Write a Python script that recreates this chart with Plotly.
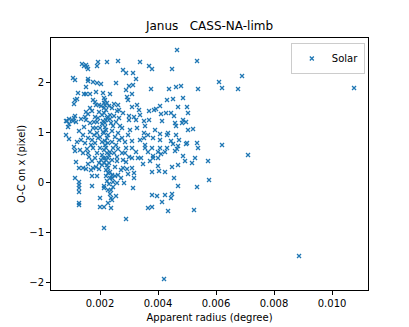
import plotly.graph_objects as go

# apparent radius in millidegree, O-C in pixel
radius_mdeg = [
    1.379, 1.448, 1.517, 1.552, 1.586, 1.931, 1.897, 2.241, 2.621, 3.379,
    2.793, 2.897, 3.138, 3.690, 3.793, 1.069, 1.138, 1.586, 1.586, 1.759,
    1.897, 2.034, 2.552, 3.241, 3.000, 3.138, 2.897, 3.759, 1.517, 1.862,
    2.103, 2.345, 3.103, 1.241, 1.448, 1.517, 1.655, 2.931, 2.966, 1.138,
    1.207, 1.103, 1.759, 1.828, 2.138, 2.138, 2.172, 1.966, 2.483, 2.621,
    3.103, 3.276, 3.862, 3.690, 3.345, 2.586, 2.655, 2.310, 2.138, 1.724,
    1.586, 1.966, 2.345, 2.276, 2.069, 1.931, 1.828, 1.483, 1.517, 1.345,
    1.138, 1.103, 0.931, 0.862, 1.034, 1.172, 3.000, 3.172, 3.379, 3.000,
    3.241, 3.517, 3.690, 2.552, 2.207, 2.103, 1.897, 1.793, 2.345,
    0.897, 1.276, 0.828, 0.931, 1.207, 1.345, 1.103, 1.138, 1.414, 1.552,
    1.586, 1.621, 1.172, 1.276, 1.414, 1.586, 1.724, 1.517, 1.690, 1.759,
    1.862, 1.966, 2.069, 1.138, 1.276, 1.276, 1.276, 1.276, 1.276, 1.276,
    1.724, 1.897, 1.724, 2.000, 2.000, 2.138, 2.138, 2.138, 2.276, 2.379,
    2.379, 2.448, 2.448, 2.414, 2.414, 2.345, 2.276, 2.241, 2.172, 2.103,
    2.276, 2.414, 2.517, 2.724, 2.793, 2.931, 3.103, 2.966, 2.724, 3.172,
    3.172, 3.138, 3.793, 3.793, 3.793, 2.862, 3.103, 3.241, 3.103, 3.310,
    3.483, 3.414, 3.552, 3.655, 3.828, 3.828, 3.724, 2.621, 2.759, 2.586,
    2.793, 2.897, 2.759, 2.862, 3.103, 3.379, 3.517, 3.517, 3.655, 3.828,
    3.552, 3.793, 3.276, 3.552, 3.034, 2.759, 2.621, 2.517, 2.414, 2.448,
    2.345, 2.172, 2.069, 1.931, 1.828, 1.759, 1.897, 2.000, 2.069, 2.241,
    1.655, 1.759, 1.897, 2.000, 2.103, 2.172, 2.276, 1.586, 1.724,
    4.655, 5.345, 4.483, 6.897, 6.103, 6.207, 6.759, 5.379, 4.379, 4.621,
    4.793, 4.310, 4.517, 4.862, 4.069, 3.931, 4.690, 5.000, 4.276, 4.103,
    4.448, 4.552, 5.034, 4.138, 4.862, 4.966, 4.586, 4.828, 10.759,
    3.897, 4.069, 4.621, 5.034, 5.207, 4.310, 4.345, 4.621, 4.069, 4.448,
    4.517, 4.724, 4.690, 4.655, 4.586, 5.000, 4.966, 5.345, 5.379, 6.207,
    7.103, 4.069, 4.310, 4.000, 4.241, 4.103, 4.000, 4.862, 5.276, 5.724,
    4.931, 5.172, 4.690, 4.000, 4.483, 4.034, 4.241, 4.552, 5.759, 4.690,
    5.345, 3.966, 4.241, 4.483, 4.448, 4.138, 5.241, 4.345, 4.207, 8.862,
    2.897, 2.138, 3.655, 0.828, 0.931, 1.069,
    2.172, 2.241, 2.207, 2.138, 2.241, 2.172, 2.207, 2.138, 2.241, 2.172,
    2.276, 2.207, 2.138, 2.310, 2.207, 2.138, 2.310, 2.207, 2.276, 2.207,
    2.345, 2.241, 2.310, 2.379, 2.345, 2.034, 2.069, 2.000, 2.034, 1.966,
    2.414, 2.448, 2.379, 2.483, 2.414, 2.552, 2.483, 2.586, 2.655, 2.690,
    2.655, 2.793, 1.862, 1.793, 1.690, 1.828, 1.862, 1.655, 1.517, 1.448,
    1.414, 1.483, 1.655, 1.310, 2.966, 2.897, 3.000, 2.621, 2.517, 2.828,
    2.586, 2.414, 2.276, 2.552,
]
oc_x = [
    2.36, 2.32, 2.34, 2.30, 2.26, 2.40, 2.32, 2.40, 2.42, 2.40,
    2.24, 2.18, 2.18, 2.32, 2.26, 2.08, 2.04, 2.06, 2.02, 2.00,
    1.98, 1.96, 1.98, 2.06, 1.92, 1.94, 1.84, 1.86, 1.90, 1.80,
    1.78, 1.76, 1.76, 1.78, 1.76, 1.76, 1.76, 1.70, 1.64, 1.64,
    1.66, 1.56, 1.64, 1.60, 1.68, 1.58, 1.54, 1.54, 1.56, 1.54,
    1.50, 1.54, 1.44, 1.42, 1.44, 1.42, 1.44, 1.52, 1.48, 1.42,
    1.36, 1.40, 1.34, 1.30, 1.34, 1.28, 1.30, 1.30, 1.24, 1.26,
    1.32, 1.28, 1.26, 1.22, 1.24, 1.20, 1.32, 1.30, 1.34, 1.24,
    1.24, 1.22, 1.24, 1.20, 1.24, 1.22, 1.20, 1.20, 1.26,
    1.10, 1.02, 0.94, 0.86, 0.80, 0.84, 0.70, 0.62, 0.58, 0.66,
    0.58, 0.50, 0.40, 0.28, 0.28, 0.36, 0.42, 0.26, 0.24, 0.28,
    0.30, 0.26, 0.34, 0.08, 0.00, -0.06, -0.12, -0.20, -0.42, -0.46,
    -0.08, 0.12, 0.12, -0.32, -0.50, -0.50, -0.08, -0.12, -0.16, -0.32,
    -0.52, -0.10, 0.00, 0.08, 0.14, 0.20, 0.28, 0.34, 0.48, 0.48,
    0.48, 0.44, 0.30, 0.24, 0.28, 0.26, 0.28, 0.16, 0.08, 0.08,
    0.18, -0.12, 0.20, -0.26, -0.50, 0.58, 0.68, 0.60, 0.48, 0.48,
    0.36, 0.48, 0.68, 0.60, 0.52, 0.48, 0.42, 0.66, 0.58, 0.50,
    0.44, 0.40, 0.88, 0.80, 0.82, 0.84, 0.88, 0.98, 0.94, 0.88,
    0.74, 0.68, 1.08, 1.12, 1.04, 1.08, 0.98, 0.90, 0.80, 0.68,
    0.60, 0.74, 0.80, 0.88, 0.78, 0.68, 0.58, 0.68, 0.54, 0.58,
    1.00, 1.08, 0.98, 1.08, 1.00, 1.10, 0.94, 0.88, 0.84,
    2.64, 2.42, 2.26, 2.12, 2.00, 1.88, 1.86, 1.86, 1.86, 1.90,
    1.92, 1.64, 1.66, 1.68, 1.52, 1.46, 1.50, 1.50, 1.38, 1.36,
    1.38, 1.32, 1.38, 1.22, 1.24, 1.20, 1.18, 1.18, 1.88,
    1.04, 0.96, 1.12, 1.04, 1.06, 0.94, 0.98, 0.94, 0.84, 0.82,
    0.76, 0.84, 0.72, 0.66, 0.62, 0.78, 0.76, 0.78, 0.68, 0.74,
    0.54, 0.68, 0.68, 0.60, 0.60, 0.56, 0.48, 0.52, 0.48, 0.42,
    0.42, 0.38, 0.34, 0.32, 0.30, 0.22, 0.20, 0.08, 0.04, -0.08,
    -0.10, -0.28, -0.26, -0.24, -0.32, -0.40, -0.56, -0.58, -1.94, -1.48,
    -0.74, -0.92, -0.52, 1.22, 1.16, 1.22,
    1.64, 1.58, 1.44, 1.38, 1.28, 1.18, 1.04, 0.98, 0.88, 0.82,
    0.78, 0.68, 0.64, 0.54, 0.44, 0.38, 0.38, 0.24, 0.18, 0.12,
    0.08, 0.02, -0.04, -0.16, -0.24, 1.52, 1.16, 0.90, 0.44, 0.38,
    1.02, 1.12, 1.18, 1.32, 1.48, 0.74, 0.58, 0.42, 0.84, 1.12,
    1.28, 1.38, 1.08, 0.94, 0.74, 0.48, 1.54, 1.48, 1.40, 1.10,
    0.94, 0.78, 1.18, 0.64, 0.94, 0.68, 0.50, 0.14, 0.12, -0.02,
    -0.02, -0.36, -0.42, -0.28,
]
radius = [r * 1e-3 for r in radius_mdeg]

fig = go.Figure()
fig.add_trace(go.Scatter(
    x=radius, y=oc_x, mode="markers", name="Solar",
    marker=dict(symbol="x-thin-open", size=4, color="#1f77b4",
                line=dict(width=1.3, color="#1f77b4")),
))

axis_style = dict(
    showline=True, linecolor="black", linewidth=1, mirror=True,
    ticks="outside", ticklen=4, tickcolor="black", tickwidth=1,
    showgrid=False, zeroline=False, automargin=False,
    tickfont=dict(family="DejaVu Sans", size=10, color="black"),
    title_font=dict(family="DejaVu Sans", size=10, color="black"),
)

fig.update_xaxes(range=[0.00031, 0.01124], tick0=0, dtick=0.002, tickformat=".3f",
                 title_text="Apparent radius (degree)", title_standoff=5, **axis_style)
fig.update_yaxes(range=[-2.16, 2.88], tick0=0, dtick=1,
                 title_text="O-C on x (pixel)", title_standoff=1, **axis_style)

# the page body adds an 8px offset, so the figure is 8px smaller and left/top margins shrink
fig.update_layout(
    width=401, height=319,
    autosize=False,
    margin=dict(l=43, r=41, t=30, b=37),
    paper_bgcolor="white", plot_bgcolor="white",
    title=dict(text="Janus   CASS-NA-limb", x=0.5025, xanchor="center", y=0.931, yanchor="bottom",
               font=dict(family="DejaVu Sans", size=12, color="black")),
    showlegend=True,
    legend=dict(x=0.99, y=0.98, xanchor="right", yanchor="top",
                bordercolor="#cccccc", borderwidth=1, bgcolor="white",
                font=dict(family="DejaVu Sans", size=10, color="black"),
                itemwidth=30, tracegroupgap=0),
)

fig.write_html("out.html")
